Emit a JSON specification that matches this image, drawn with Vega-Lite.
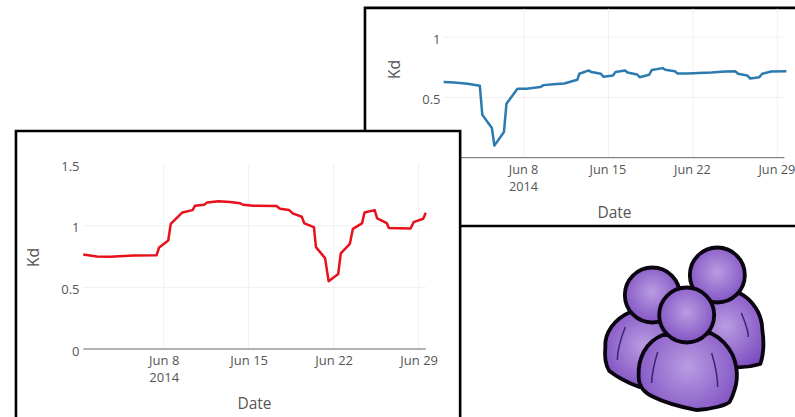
{
"$schema":"https://vega.github.io/schema/vega-lite/v6.json",
"width":795,"height":417,"autosize":"none","padding":0,"background":"white",
"config":{"view":{"stroke":null},"font":"Open Sans"},
"datasets":{
"blue":[
{"date":"2014-06-01T08:00:00Z","kd":0.627},{"date":"2014-06-02T05:00:00Z","kd":0.624},{"date":"2014-06-03T08:00:00Z","kd":0.613},{"date":"2014-06-04T08:00:00Z","kd":0.597},{"date":"2014-06-04T13:00:00Z","kd":0.356},{"date":"2014-06-05T08:00:00Z","kd":0.246},{"date":"2014-06-05T13:00:00Z","kd":0.10},{"date":"2014-06-06T08:00:00Z","kd":0.213},{"date":"2014-06-06T13:00:00Z","kd":0.447},{"date":"2014-06-07T11:00:00Z","kd":0.572},{"date":"2014-06-08T05:00:00Z","kd":0.572},{"date":"2014-06-09T08:00:00Z","kd":0.586},{"date":"2014-06-09T15:00:00Z","kd":0.602},{"date":"2014-06-10T11:00:00Z","kd":0.61},{"date":"2014-06-11T08:00:00Z","kd":0.616},{"date":"2014-06-12T10:00:00Z","kd":0.646},{"date":"2014-06-12T14:00:00Z","kd":0.696},{"date":"2014-06-13T09:00:00Z","kd":0.724},{"date":"2014-06-13T14:00:00Z","kd":0.71},{"date":"2014-06-14T09:00:00Z","kd":0.696},{"date":"2014-06-14T14:00:00Z","kd":0.671},{"date":"2014-06-15T09:00:00Z","kd":0.682},{"date":"2014-06-15T14:00:00Z","kd":0.71},{"date":"2014-06-16T09:00:00Z","kd":0.724},{"date":"2014-06-16T14:00:00Z","kd":0.707},{"date":"2014-06-17T09:00:00Z","kd":0.69},{"date":"2014-06-17T14:00:00Z","kd":0.668},{"date":"2014-06-18T09:00:00Z","kd":0.688},{"date":"2014-06-18T14:00:00Z","kd":0.727},{"date":"2014-06-19T12:00:00Z","kd":0.743},{"date":"2014-06-19T17:00:00Z","kd":0.729},{"date":"2014-06-20T12:00:00Z","kd":0.718},{"date":"2014-06-20T17:00:00Z","kd":0.699},{"date":"2014-06-21T14:00:00Z","kd":0.699},{"date":"2014-06-22T11:00:00Z","kd":0.702},{"date":"2014-06-23T13:00:00Z","kd":0.707},{"date":"2014-06-24T16:00:00Z","kd":0.715},{"date":"2014-06-25T12:00:00Z","kd":0.718},{"date":"2014-06-25T18:00:00Z","kd":0.696},{"date":"2014-06-26T12:00:00Z","kd":0.682},{"date":"2014-06-26T18:00:00Z","kd":0.657},{"date":"2014-06-27T12:00:00Z","kd":0.668},{"date":"2014-06-27T18:00:00Z","kd":0.696},{"date":"2014-06-28T12:00:00Z","kd":0.715},{"date":"2014-06-29T18:00:00Z","kd":0.718}],
"red":[
{"date":"2014-06-01T09:00:00Z","kd":0.767},{"date":"2014-06-02T12:00:00Z","kd":0.751},{"date":"2014-06-03T14:00:00Z","kd":0.749},{"date":"2014-06-05T12:00:00Z","kd":0.759},{"date":"2014-06-07T10:00:00Z","kd":0.762},{"date":"2014-06-07T15:00:00Z","kd":0.825},{"date":"2014-06-08T09:00:00Z","kd":0.881},{"date":"2014-06-08T14:00:00Z","kd":1.017},{"date":"2014-06-09T13:00:00Z","kd":1.109},{"date":"2014-06-10T09:00:00Z","kd":1.128},{"date":"2014-06-10T14:00:00Z","kd":1.164},{"date":"2014-06-11T08:00:00Z","kd":1.172},{"date":"2014-06-11T14:00:00Z","kd":1.19},{"date":"2014-06-12T12:00:00Z","kd":1.199},{"date":"2014-06-13T11:00:00Z","kd":1.193},{"date":"2014-06-14T07:00:00Z","kd":1.183},{"date":"2014-06-14T13:00:00Z","kd":1.172},{"date":"2014-06-15T09:00:00Z","kd":1.164},{"date":"2014-06-17T07:00:00Z","kd":1.161},{"date":"2014-06-17T14:00:00Z","kd":1.139},{"date":"2014-06-18T08:00:00Z","kd":1.128},{"date":"2014-06-18T15:00:00Z","kd":1.101},{"date":"2014-06-19T09:00:00Z","kd":1.074},{"date":"2014-06-19T14:00:00Z","kd":1.02},{"date":"2014-06-20T09:00:00Z","kd":0.99},{"date":"2014-06-20T13:00:00Z","kd":0.827},{"date":"2014-06-21T07:00:00Z","kd":0.738},{"date":"2014-06-21T14:00:00Z","kd":0.551},{"date":"2014-06-22T09:00:00Z","kd":0.61},{"date":"2014-06-22T14:00:00Z","kd":0.776},{"date":"2014-06-23T08:00:00Z","kd":0.854},{"date":"2014-06-23T14:00:00Z","kd":0.976},{"date":"2014-06-24T08:00:00Z","kd":1.02},{"date":"2014-06-24T13:00:00Z","kd":1.109},{"date":"2014-06-25T09:00:00Z","kd":1.128},{"date":"2014-06-25T14:00:00Z","kd":1.06},{"date":"2014-06-26T09:00:00Z","kd":1.022},{"date":"2014-06-26T13:00:00Z","kd":0.982},{"date":"2014-06-28T08:00:00Z","kd":0.979},{"date":"2014-06-28T14:00:00Z","kd":1.03},{"date":"2014-06-29T09:00:00Z","kd":1.058},{"date":"2014-06-29T14:00:00Z","kd":1.107}],
"blueFrame":[{"date":"2014-05-25T19:30:00Z","date2":"2014-07-01T00:00:00Z","kd":1.243,"kd2":-0.566}],
"redFrame":[{"date":"2014-05-26T20:00:00Z","date2":"2014-07-02T10:00:00Z","kd":1.771,"kd2":-0.577}],
"blueV":[{"date":"2014-06-08","kd":0,"kd2":1.235},{"date":"2014-06-15","kd":0,"kd2":1.235},{"date":"2014-06-22","kd":0,"kd2":1.235},{"date":"2014-06-29","kd":0,"kd2":1.235}],
"redV":[{"date":"2014-06-08","kd":0,"kd2":1.5},{"date":"2014-06-15","kd":0,"kd2":1.5},{"date":"2014-06-22","kd":0,"kd2":1.5},{"date":"2014-06-29","kd":0,"kd2":1.5}],
"blueH":[{"date":"2014-06-01T08:00:00Z","date2":"2014-06-29T14:00:00Z","kd":0.5},{"date":"2014-06-01T08:00:00Z","date2":"2014-06-29T14:00:00Z","kd":1}],
"redH":[{"date":"2014-06-01T09:00:00Z","date2":"2014-06-29T14:00:00Z","kd":0.5},{"date":"2014-06-01T09:00:00Z","date2":"2014-06-29T14:00:00Z","kd":1}],
"blueBase":[{"date":"2014-06-01T08:00:00Z","date2":"2014-06-29T14:00:00Z","kd":0}],
"redBase":[{"date":"2014-06-01T09:00:00Z","date2":"2014-06-29T14:00:00Z","kd":0}],
"icon":[
{"ix":367,"iy":105,"part":"backBody"},{"ix":367,"iy":105,"part":"head"},
{"ix":172,"iy":165,"part":"leftBody"},{"ix":172,"iy":165,"part":"head"},
{"ix":275,"iy":225,"part":"frontBody"},{"ix":275,"iy":225,"part":"head"}],
"creases":[
{"ix":275,"iy":225,"part":"frontL"},{"ix":275,"iy":225,"part":"frontR"},{"ix":172,"iy":165,"part":"leftL"},{"ix":367,"iy":105,"part":"backR"}]
},
"layer":[
{"encoding":{
"x":{"field":"date","type":"temporal","scale":{"type":"utc","domain":[{"year":2014,"month":6,"date":1,"utc":true},{"year":2014,"month":6,"date":30,"utc":true}],"range":[439.6,789.4]},
"axis":{"orient":"bottom","offset":-259,"grid":false,"domain":false,"ticks":false,"zindex":1,"values":[{"year":2014,"month":6,"date":8,"utc":true},{"year":2014,"month":6,"date":15,"utc":true},{"year":2014,"month":6,"date":22,"utc":true},{"year":2014,"month":6,"date":29,"utc":true}],"format":"%b %-d","labelExpr":"utcdate(datum.value)==8 ? ['Jun 8','2014'] : datum.label","labelOverlap":false,"labelBound":false,"labelFlush":false,"labelPadding":5,"labelOffset":-1,"labelFontSize":12.7,"labelColor":"#555555","labelFont":"Open Sans","labelLineHeight":17,"title":"Date","titleFont":"Open Sans","titleFontSize":15.5,"titleFontWeight":"normal","titleColor":"#555555","titleX":614,"titleY":54,"titleBaseline":"middle","titleAlign":"center"}},
"y":{"field":"kd","type":"quantitative","scale":{"domain":[0,1.25],"range":[157.7,7],"nice":false,"zero":false},
"axis":{"orient":"left","offset":-444,"grid":false,"domain":false,"ticks":false,"zindex":1,"values":[0.5,1],"labelExpr":"datum.value==1?'1':'0.5'","labelOverlap":false,"labelBound":false,"labelPadding":4,"labelOffset":2,"labelFontSize":13,"labelColor":"#555555","labelFont":"Open Sans","title":"Kd","titleFont":"Open Sans","titleFontSize":15.5,"titleFontWeight":"normal","titleColor":"#555555","titleX":-50,"titleY":69,"titleBaseline":"middle","titleAlign":"center"}}},
"layer":[
{"data":{"name":"blueFrame"},"mark":{"type":"rect","fill":"white","stroke":"black","strokeWidth":2.6},"encoding":{"x2":{"field":"date2"},"y2":{"field":"kd2"}}},
{"data":{"name":"blueV"},"mark":{"type":"rule","stroke":"#f0f0f0","strokeWidth":1},"encoding":{"y2":{"field":"kd2"}}},
{"data":{"name":"blueH"},"mark":{"type":"rule","stroke":"#f0f0f0","strokeWidth":1},"encoding":{"x2":{"field":"date2"}}},
{"data":{"name":"blueBase"},"mark":{"type":"rule","stroke":"#666666","strokeWidth":1},"encoding":{"x2":{"field":"date2"}}},
{"data":{"name":"blue"},"mark":{"type":"line","stroke":"#2c7bb0","strokeWidth":2.5,"strokeJoin":"round"},"encoding":{}}
]},
{"encoding":{
"x":{"field":"date","type":"temporal","scale":{"type":"utc","domain":[{"year":2014,"month":6,"date":1,"utc":true},{"year":2014,"month":6,"date":30,"utc":true}],"range":[78.7,430.8]},
"axis":{"orient":"bottom","offset":-68,"grid":false,"domain":false,"ticks":false,"zindex":1,"values":[{"year":2014,"month":6,"date":8,"utc":true},{"year":2014,"month":6,"date":15,"utc":true},{"year":2014,"month":6,"date":22,"utc":true},{"year":2014,"month":6,"date":29,"utc":true}],"format":"%b %-d","labelExpr":"utcdate(datum.value)==8 ? ['Jun 8','2014'] : datum.label","labelOverlap":false,"labelBound":false,"labelFlush":false,"labelPadding":5,"labelFontSize":13,"labelColor":"#555555","labelFont":"Open Sans","labelLineHeight":17,"title":"Date","titleFont":"Open Sans","titleFontSize":15.5,"titleFontWeight":"normal","titleColor":"#555555","titleX":254,"titleY":54,"titleBaseline":"middle","titleAlign":"center"}},
"y":{"field":"kd","type":"quantitative","scale":{"domain":[0,1.5],"range":[349,164.3],"nice":false,"zero":false},
"axis":{"orient":"left","offset":-83,"grid":false,"domain":false,"ticks":false,"zindex":1,"values":[0,0.5,1,1.5],"labelExpr":"datum.value==0?'0':datum.value==1?'1':datum.value==0.5?'0.5':'1.5'","labelOverlap":false,"labelBound":false,"labelPadding":4,"labelOffset":2,"labelFontSize":13,"labelColor":"#555555","labelFont":"Open Sans","title":"Kd","titleFont":"Open Sans","titleFontSize":15.5,"titleFontWeight":"normal","titleColor":"#555555","titleX":-50,"titleY":257,"titleBaseline":"middle","titleAlign":"center"}}},
"layer":[
{"data":{"name":"redFrame"},"mark":{"type":"rect","fill":"white","stroke":"black","strokeWidth":2.6},"encoding":{"x2":{"field":"date2"},"y2":{"field":"kd2"}}},
{"data":{"name":"redV"},"mark":{"type":"rule","stroke":"#f0f0f0","strokeWidth":1},"encoding":{"y2":{"field":"kd2"}}},
{"data":{"name":"redH"},"mark":{"type":"rule","stroke":"#f0f0f0","strokeWidth":1},"encoding":{"x2":{"field":"date2"}}},
{"data":{"name":"redBase"},"mark":{"type":"rule","stroke":"#666666","strokeWidth":1},"encoding":{"x2":{"field":"date2"}}},
{"data":{"name":"red"},"mark":{"type":"line","stroke":"#e8101a","strokeWidth":2.5,"strokeJoin":"round"},"encoding":{}}
]},
{"encoding":{
"x":{"field":"ix","type":"quantitative","scale":{"domain":[0,540],"range":[595,775],"nice":false,"zero":false},"axis":null},
"y":{"field":"iy","type":"quantitative","scale":{"domain":[0,531],"range":[240,417],"nice":false,"zero":false},"axis":null},
"size":{"value":4},
"shape":{"field":"part","type":"nominal","legend":null,"scale":{
"domain":["head","backBody","leftBody","frontBody","frontL","frontR","leftL","backR"],
"range":["M-27.5,0A27.5,27.5 0 1 1 27.5,0A27.5,27.5 0 1 1 -27.5,0Z",
"M22,18C36,25 45,40 45,55C47,68 46,80 43,89C33,92 22,93 13,92L-30,60L-25,20Z",
"M-22,17C-38,24 -48,38 -47,52C-48,62 -47,70 -43,76C-34,83 -24,88 -13,92L25,60L30,25Z",
"M-24,20C-41,27 -49,43 -48,62C-48,72 -41,79 -33,82C-17,90 0,93 10,95C27,94 39,90 43,87C51,71 53,57 46,40C41,30 34,23 24,18Z",
"M-29,37C-32,47 -35,57 -35,68","M25,38C28,48 31,60 31,72","M-27,32C-31,42 -35,54 -35,65","M24,38C27,46 31,54 31,62"]}}},
"layer":[
{"data":{"name":"icon"},"mark":{"type":"point","filled":true,"opacity":1,"stroke":"#0a0510","strokeWidth":3.8,"strokeJoin":"round","fill":{"gradient":"radial","x1":0.5,"y1":0.45,"r1":0,"x2":0.5,"y2":0.45,"r2":0.62,"stops":[{"offset":0,"color":"#ba9ce2"},{"offset":1,"color":"#7c4cc0"}]}}},
{"data":{"name":"creases"},"mark":{"type":"point","filled":false,"opacity":1,"stroke":"#3d2470","strokeWidth":1.5,"fill":null}}
]}
],
"resolve":{"scale":{"x":"independent","y":"independent","shape":"independent","size":"independent"},"axis":{"x":"independent","y":"independent"}}
}
